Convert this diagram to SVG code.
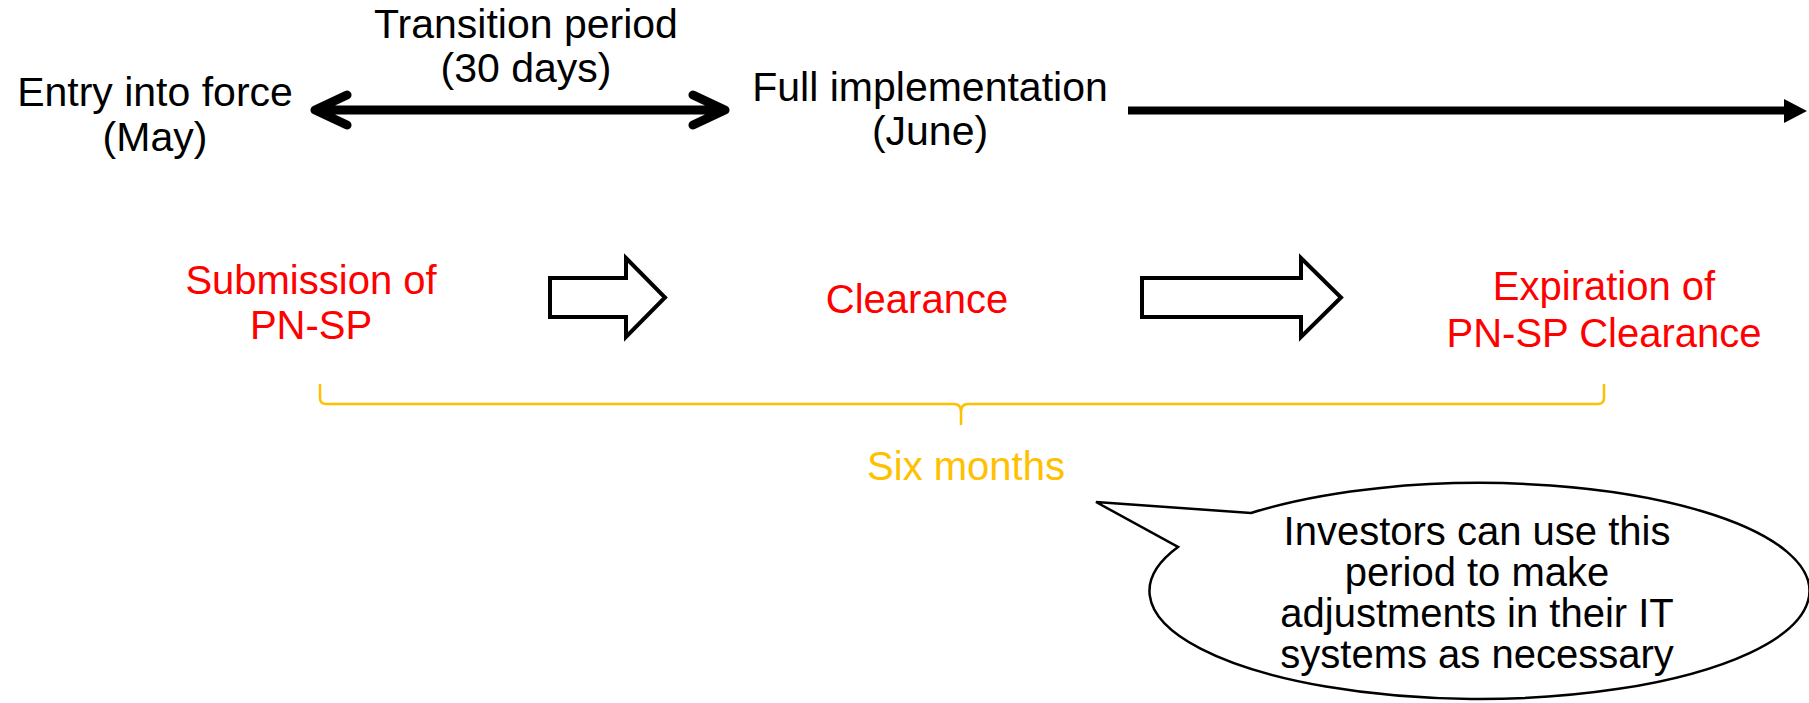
<svg xmlns="http://www.w3.org/2000/svg" width="1809" height="703" viewBox="0 0 1809 703">
<style>
text{font-family:"Liberation Sans",Arial,sans-serif;text-anchor:middle}
.k{font-size:41px;fill:#000}
.b{font-size:40px;fill:#000}
.r{font-size:40px;fill:#FF0000}
.y{font-size:40px;fill:#FFC000}
.thick{stroke:#000;stroke-width:9;fill:none;stroke-linecap:round;stroke-linejoin:round}
.block{fill:#fff;stroke:#000;stroke-width:4}
.brace{fill:none;stroke:#FFC000;stroke-width:2.5}
.bubble{fill:#fff;stroke:#000;stroke-width:2.5}
</style>
<rect width="1809" height="703" fill="#fff"/>
<g id="entry"><text class="k" x="155" y="106">Entry into force</text><text class="k" x="155" y="151">(May)</text></g>
<g id="transition"><text class="k" x="526" y="38">Transition period</text><text class="k" x="526" y="82">(30 days)</text></g>
<g id="full"><text class="k" x="930" y="101">Full implementation</text><text class="k" x="930" y="145">(June)</text></g>
<g id="submission"><text class="r" x="311" y="294">Submission of</text><text class="r" x="311" y="339">PN-SP</text></g>
<g id="clearance"><text class="r" x="917" y="313">Clearance</text></g>
<g id="expiration"><text class="r" x="1604" y="300">Expiration of</text><text class="r" x="1604" y="347">PN-SP Clearance</text></g>
<g id="six"><text class="y" x="966" y="480">Six months</text></g>
<g id="connectors">
<path class="thick" d="M318 110H722M347 95L315 110L347 125M693 95L725 110L693 125"/>
<path d="M1128 110.5H1786" stroke="#000" stroke-width="8"/>
<path d="M1784 99L1807 111L1784 123Z" fill="#000"/>
<path class="block" d="M550 278H626V258L665 297.5L626 337V317H550Z"/>
<path class="block" d="M1142 278H1301V258L1341 297.5L1301 337V317H1142Z"/>
<path class="brace" d="M320 384V398Q320 404 326 404H954Q961 404 961 412V425M961 412Q961 404 968 404H1598Q1604 404 1604 398V384"/>
</g>
<g id="bubble">
<path class="bubble" d="M1251 513A330 108 0 1 1 1178 547L1096 502Z"/>
<text class="b" x="1477" y="545">Investors can use this</text>
<text class="b" x="1477" y="586">period to make</text>
<text class="b" x="1477" y="627">adjustments in their IT</text>
<text class="b" x="1477" y="668">systems as necessary</text>
</g>
</svg>
